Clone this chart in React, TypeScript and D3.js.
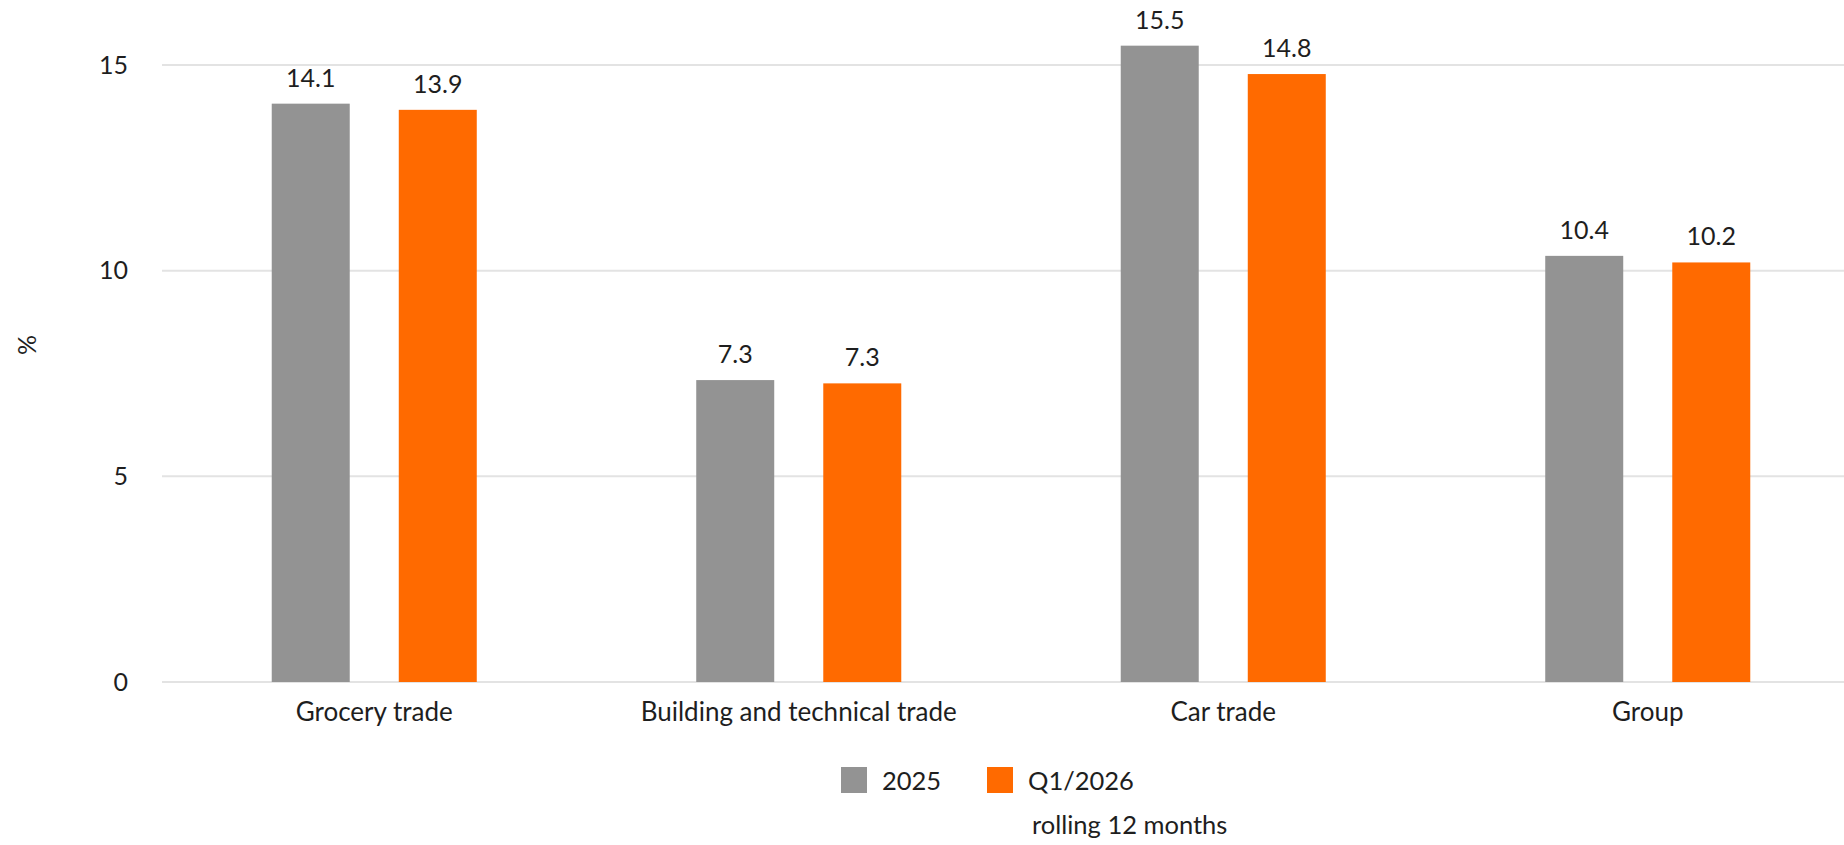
import React from "react";
import * as d3 from "d3";

const categories = ["Grocery trade", "Building and technical trade", "Car trade", "Group"];
const seriesNames = ["2025", "Q1/2026"];
const values2025 = [14.06, 7.34, 15.47, 10.36];
const valuesQ1 = [13.91, 7.26, 14.78, 10.2];
const yTicks = [0, 5, 10, 15];
const colors = ["#939393", "#ff6a00"];
const note = "rolling 12 months";
const yLabel = "%";

const W = 1844;
const H = 845;
const FONT = "Lato, 'Noto Sans', sans-serif";
const TEXT = "#1e1e1e";

export default function App() {
  const x0 = d3
    .scaleBand<string>()
    .domain(categories)
    .range([162, 1860])
    .paddingInner(0.517)
    .paddingOuter(0.2585);
  const x1 = d3
    .scaleBand<string>()
    .domain(seriesNames)
    .range([0, x0.bandwidth()])
    .paddingInner(0.386);
  const y = d3.scaleLinear().domain([0, 15]).range([682, 65]);
  const series = [values2025, valuesQ1];

  return (
    <div style={{ position: "absolute", left: 0, top: 0 }}>
      <svg width={W} height={H} style={{ display: "block", background: "#fff" }}>
        {yTicks.map((t) => (
          <g key={t}>
            <line x1={162} x2={W} y1={y(t)} y2={y(t)} stroke="#e3e3e3" strokeWidth={2} />
            <text
              x={128}
              y={y(t)}
              dy="0.35em"
              textAnchor="end"
              fontFamily={FONT}
              fontSize={25}
              fill={TEXT}
            >
              {t}
            </text>
          </g>
        ))}
        <text
          transform={`translate(27,345) rotate(-90)`}
          textAnchor="middle"
          dy="0.35em"
          fontFamily={FONT}
          fontSize={25}
          fill={TEXT}
        >
          {yLabel}
        </text>
        {categories.map((c, i) => (
          <g key={c}>
            {seriesNames.map((s, j) => {
              const v = series[j][i];
              const bx = (x0(c) as number) + (x1(s) as number);
              return (
                <g key={s}>
                  <rect
                    x={bx}
                    y={y(v)}
                    width={x1.bandwidth()}
                    height={y(0) - y(v)}
                    fill={colors[j]}
                  />
                  <text
                    x={bx + x1.bandwidth() / 2}
                    y={y(v) - 17}
                    textAnchor="middle"
                    fontFamily={FONT}
                    fontSize={25}
                    fill={TEXT}
                  >
                    {v.toFixed(1)}
                  </text>
                </g>
              );
            })}
            <text
              x={(x0(c) as number) + x0.bandwidth() / 2}
              y={721}
              textAnchor="middle"
              fontFamily={FONT}
              fontSize={26}
              fill={TEXT}
            >
              {c}
            </text>
          </g>
        ))}
        {seriesNames.map((s, j) => {
          const lx = [841, 987][j];
          return (
            <g key={s}>
              <rect x={lx} y={767} width={26} height={26} fill={colors[j]} />
              <text x={lx + 41} y={790} fontFamily={FONT} fontSize={25.5} fill={TEXT}>
                {s}
              </text>
            </g>
          );
        })}
        <text x={1032} y={834} fontFamily={FONT} fontSize={25.5} fill={TEXT}>
          {note}
        </text>
      </svg>
    </div>
  );
}
